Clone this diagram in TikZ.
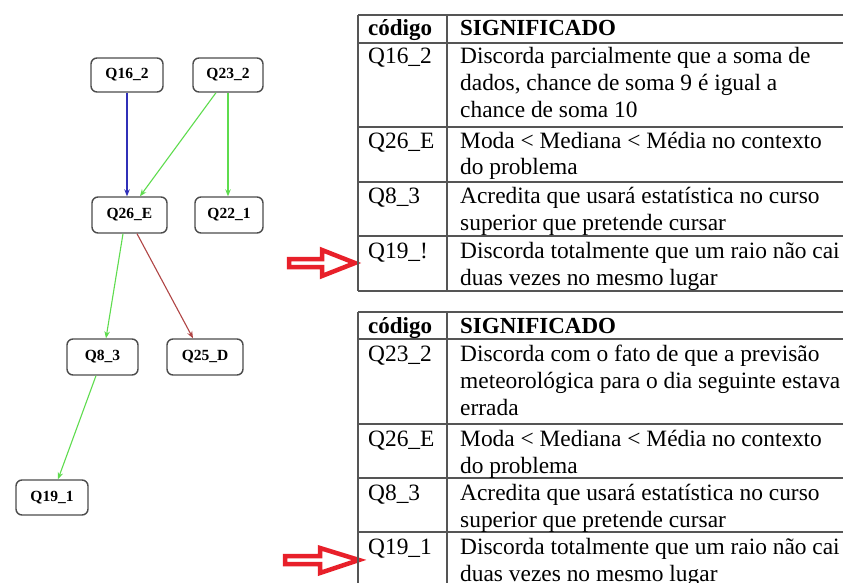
\documentclass[tikz,border=0pt]{standalone}
\usepackage{fontspec}
\setmainfont{Liberation Serif}
\usetikzlibrary{arrows.meta}
\definecolor{edgegreen}{HTML}{5EDC4E}
\definecolor{edgeblue}{HTML}{3030B8}
\definecolor{edgered}{HTML}{B04545}
\definecolor{bigred}{HTML}{E8202A}
\definecolor{tabline}{HTML}{555555}
\begin{document}
\begin{tikzpicture}[x=1pt,y=-1pt,
  gnode/.style={draw=black!70, line width=1.4pt, rounded corners=6pt, minimum height=34pt,
    inner sep=0pt, font=\bfseries\fontsize{15.5}{15.5}\selectfont},
  gedge/.style={line width=1.1pt, -{Stealth[length=7pt,width=5.5pt]}},
  tcell/.style={anchor=base west, inner sep=0pt, font=\fontsize{23.4}{27}\selectfont},
  thead/.style={tcell, font=\bfseries\fontsize{23}{27}\selectfont},
  tline/.style={draw=tabline, line width=1.2pt},
  bigarrow/.style={draw=bigred, line width=4.5pt, fill=white, line join=miter}
]
\clip (0,0) rectangle (843,583);
\fill[white] (0,0) rectangle (843,583);

% ---- graph nodes ----
\node[gnode, minimum width=72pt] (q162) at (127,75) {Q16\_2};
\node[gnode, minimum width=70pt] (q232) at (228,75) {Q23\_2};
\node[gnode, minimum width=75pt, minimum height=36pt] (q26e) at (129.5,215) {Q26\_E};
\node[gnode, minimum width=68pt, minimum height=36pt] (q221) at (229,215) {Q22\_1};
\node[gnode, minimum width=71pt, minimum height=36pt] (q83) at (102.5,357) {Q8\_3};
\node[gnode, minimum width=76pt, minimum height=36pt] (q25d) at (205,357) {Q25\_D};
\node[gnode, minimum width=72pt, minimum height=35pt] (q191) at (52,497.5) {Q19\_1};

% ---- graph edges ----
\draw[gedge, edgeblue] (q162.south) -- (q162.south |- q26e.north);
\draw[gedge, edgegreen] ([xshift=-12pt]q232.south) -- ([xshift=10.5pt]q26e.north);
\draw[gedge, edgegreen] (q232.south) -- (q232.south |- q221.north);
\draw[gedge, edgegreen] ([xshift=-6.5pt]q26e.south) -- ([xshift=3.5pt]q83.north);
\draw[gedge, edgered] ([xshift=7.5pt]q26e.south) -- ([xshift=-12pt]q25d.north);
\draw[gedge, edgegreen] ([xshift=-6.5pt]q83.south) -- ([xshift=6pt]q191.north);

% ---- big red arrows ----
\draw[bigarrow] (289,259) -- (322,259) -- (322,250) -- (355,263) -- (322,276) -- (322,267) -- (289,267) -- cycle;
\draw[bigarrow] (285,556) -- (320,556) -- (320,548) -- (359,560) -- (320,573) -- (320,564) -- (285,564) -- cycle;

% ---- table 1 ----
\foreach \yy in {15,43,127,182,236,291} \draw[tline] (358,\yy) -- (900,\yy);
\draw[tline] (358,15) -- (358,291);
\draw[tline] (447,15) -- (447,291);
\node[thead] (a0c) at (368,36) {código};
\node[thead] (a0s) at (460,36) {SIGNIFICADO};
\node[tcell] (a1c) at (368,64) {Q16\_2};
\node[tcell] (a1a) at (460,64) {Discorda parcialmente que a soma de};
\node[tcell] (a1b) at (460,91) {dados, chance de soma 9 é igual a};
\node[tcell] (a1d) at (460,118) {chance de soma 10};
\node[tcell] (a2c) at (368,148) {Q26\_E};
\node[tcell] (a2a) at (460,148) {Moda < Mediana < Média no contexto};
\node[tcell] (a2b) at (460,175) {do problema};
\node[tcell] (a3c) at (368,203) {Q8\_3};
\node[tcell] (a3a) at (460,203) {Acredita que usará estatística no curso};
\node[tcell] (a3b) at (460,230) {superior que pretende cursar};
\node[tcell] (a4c) at (368,258) {Q19\_!};
\node[tcell] (a4a) at (460,258) {Discorda totalmente que um raio não cai};
\node[tcell] (a4b) at (460,285) {duas vezes no mesmo lugar};

% ---- table 2 ----
\foreach \yy in {312,339,424,478,532} \draw[tline] (358,\yy) -- (900,\yy);
\draw[tline] (358,312) -- (358,600);
\draw[tline] (447,312) -- (447,600);
\node[thead] (b0c) at (368,333) {código};
\node[thead] (b0s) at (460,333) {SIGNIFICADO};
\node[tcell] (b1c) at (368,361) {Q23\_2};
\node[tcell] (b1a) at (460,361) {Discorda com o fato de que a previsão};
\node[tcell] (b1b) at (460,388) {meteorológica para o dia seguinte estava};
\node[tcell] (b1d) at (460,415) {errada};
\node[tcell] (b2c) at (368,446) {Q26\_E};
\node[tcell] (b2a) at (460,446) {Moda < Mediana < Média no contexto};
\node[tcell] (b2b) at (460,473) {do problema};
\node[tcell] (b3c) at (368,500) {Q8\_3};
\node[tcell] (b3a) at (460,500) {Acredita que usará estatística no curso};
\node[tcell] (b3b) at (460,527) {superior que pretende cursar};
\node[tcell] (b4c) at (368,554) {Q19\_1};
\node[tcell] (b4a) at (460,554) {Discorda totalmente que um raio não cai};
\node[tcell] (b4b) at (460,581) {duas vezes no mesmo lugar};
\end{tikzpicture}
\end{document}
